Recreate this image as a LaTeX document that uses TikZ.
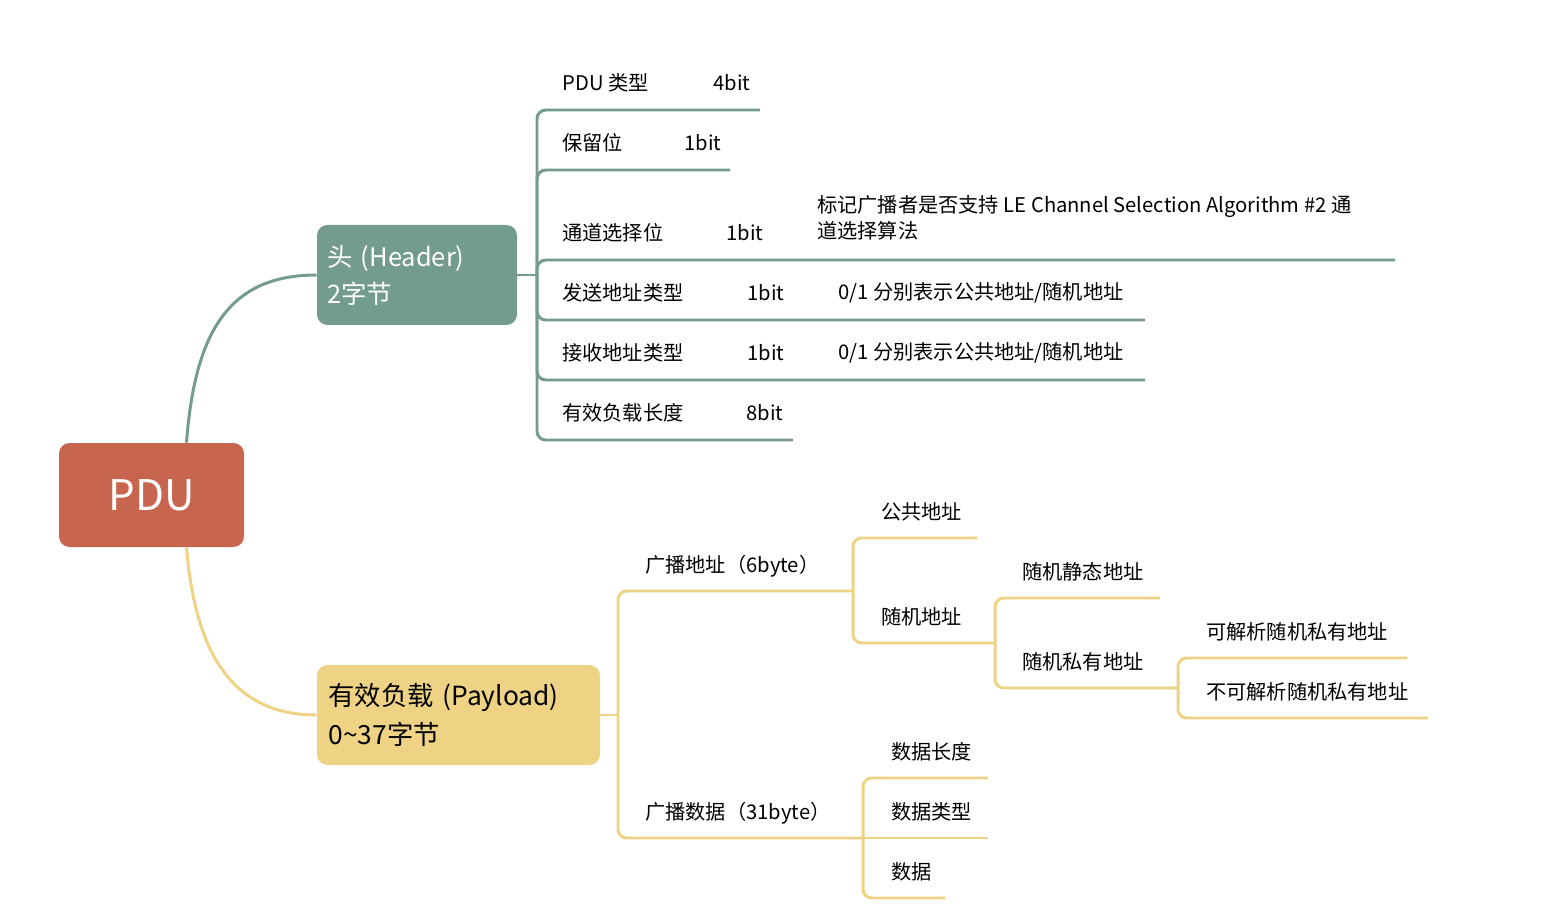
\documentclass[tikz,border=0pt]{standalone}
\usepackage{fontspec}
\setmainfont{Noto Sans CJK SC}
\usepackage{xcolor}
\definecolor{pducol}{RGB}{200,101,78}
\definecolor{headcol}{RGB}{115,156,140}
\definecolor{paycol}{RGB}{239,211,133}

\begin{document}
\begin{tikzpicture}[x=0.02cm,y=-0.02cm,
    leaf/.style={anchor=west,inner sep=0pt,font=\fontsize{11.5}{15}\selectfont},
    hline/.style={headcol,line width=1.7pt,rounded corners=5},
    pline/.style={paycol,line width=1.7pt,rounded corners=5}]
    \useasboundingbox (0,0) rectangle (1546,922);

    % main boxes
    \node (pdu) [fill=pducol,rounded corners=6,minimum width=185*0.02cm,minimum height=104*0.02cm,
        text=white,font=\fontsize{24}{28}\selectfont] at (151.5,495) {PDU};
    \node (head) [fill=headcol,rounded corners=6,minimum width=200*0.02cm,minimum height=100*0.02cm,
        text=white,font=\fontsize{14.5}{21}\selectfont,align=left,text width=180*0.02cm] at (417,275)
        {头 (Header)\\2字节};
    \node (pay) [fill=paycol,rounded corners=6,minimum width=283*0.02cm,minimum height=100*0.02cm,
        font=\fontsize{15}{22}\selectfont,align=left,text width=260*0.02cm] at (458.5,715)
        {有效负载 (Payload)\\0\textasciitilde37字节};

    \draw[headcol,line width=1.7pt] (pdu.north) ++(35,0) coordinate (pt) .. controls (195,330) and (230,275) .. (head.west);
    \draw[paycol,line width=1.7pt] (pdu.south) ++(35,0) .. controls (195,650) and (230,715) .. (pay.west);

    % header fields
    \coordinate (hs) at (537,275);
    \draw[headcol,line width=1.7pt] (head.east) -- (hs);
    \foreach \y/\e in {110/760,170/730,260/1395,320/1145,380/1145,440/793}
        \draw[hline] (hs) |- (\e,\y);
    \node[leaf] (f1) at (562,83) {PDU 类型};
    \node[leaf] (f1b) at (713,83) {4bit};
    \node[leaf] (f2) at (562,143) {保留位};
    \node[leaf] (f2b) at (684,143) {1bit};
    \node[leaf] (f3) at (562,233) {通道选择位};
    \node[leaf] (f3b) at (726,233) {1bit};
    \node[leaf,align=left] (f3c) at (817,218) {标记广播者是否支持 LE Channel Selection Algorithm \#2 通\\道选择算法};
    \node[leaf] (f4) at (562,293) {发送地址类型};
    \node[leaf] (f4b) at (747,293) {1bit};
    \node[leaf] (f4c) at (838,293) {0/1 分别表示公共地址/随机地址};
    \node[leaf] (f5) at (562,353) {接收地址类型};
    \node[leaf] (f5b) at (747,353) {1bit};
    \node[leaf] (f5c) at (838,353) {0/1 分别表示公共地址/随机地址};
    \node[leaf] (f6) at (562,413) {有效负载长度};
    \node[leaf] (f6b) at (746,413) {8bit};

    % payload fields
    \coordinate (ps) at (618,715);
    \draw[paycol,line width=1.7pt] (pay.east) -- (ps);
    \draw[pline] (ps) |- (853,591) coordinate (adv);
    \draw[pline] (ps) |- (863,838) coordinate (dat);
    \node[leaf] (advt) at (645,566) {广播地址（6byte）};
    \node[leaf] (datt) at (645,813) {广播数据（31byte）};

    \draw[pline] (adv) |- (977,538);
    \draw[pline] (adv) |- (995,643) coordinate (rnd);
    \node[leaf] (pub) at (881,512) {公共地址};
    \node[leaf] (rndt) at (881,617) {随机地址};

    \draw[pline] (rnd) |- (1160,598);
    \draw[pline] (rnd) |- (1178,688) coordinate (prv);
    \node[leaf] (stat) at (1022,572) {随机静态地址};
    \node[leaf] (prvt) at (1022,662) {随机私有地址};

    \draw[pline] (prv) |- (1407,658);
    \draw[pline] (prv) |- (1428,718);
    \node[leaf] (res) at (1206,632) {可解析随机私有地址};
    \node[leaf] (nres) at (1206,692) {不可解析随机私有地址};

    \draw[pline] (dat) |- (988,778);
    \draw[pline] (dat) -- (988,838);
    \draw[pline] (dat) |- (945,898);
    \node[leaf] (dlen) at (891,752) {数据长度};
    \node[leaf] (dtyp) at (891,812) {数据类型};
    \node[leaf] (dval) at (891,872) {数据};
\end{tikzpicture}
\end{document}
